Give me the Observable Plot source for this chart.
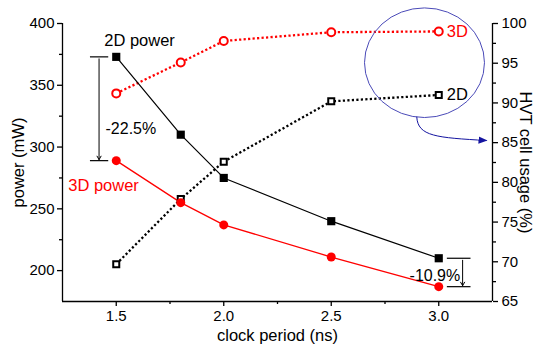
<!DOCTYPE html>
<html><head><meta charset="utf-8">
<script src="https://cdn.jsdelivr.net/npm/d3@7"></script>
<script src="https://cdn.jsdelivr.net/npm/@observablehq/plot@0.6"></script>
<style>body{margin:0;background:#fff}</style>
</head><body><div id="chart"></div>
<script>
// ---- data ----
const clock   = [1.5, 1.8, 2.0, 2.5, 3.0];
const power2D = [373, 310, 275, 240, 210];
const power3D = [289, 255, 237, 211, 187];
const hvt2D   = [69.7, 77.9, 82.6, 90.2, 91.0];
const hvt3D   = [91.2, 95.1, 97.8, 98.9, 99.0];
const xTicks = [1.5, 2.0, 2.5, 3.0];
const xMinor = [1.75, 2.25, 2.75];
const powerTicks = [200, 250, 300, 350, 400];
const powerMinor = [225, 275, 325, 375];
const hvtTicks = [65, 70, 75, 80, 85, 90, 95, 100];
const hvtMinor = [67.5, 72.5, 77.5, 82.5, 87.5, 92.5, 97.5];
const xDomain = [1.25, 3.25];
const pDomain = [175, 400];
const hDomain = [65, 100];

const toP = h => pDomain[0] + (h - hDomain[0]) * (pDomain[1] - pDomain[0]) / (hDomain[1] - hDomain[0]);
const toH = p => hDomain[0] + (p - pDomain[0]) * (hDomain[1] - hDomain[0]) / (pDomain[1] - pDomain[0]);

const rows = clock.map((c, i) => ({clock: c, p2: power2D[i], p3: power3D[i], h2: toP(hvt2D[i]), h3: toP(hvt3D[i])}));
const first = rows[0], last = rows[rows.length - 1];

const font = "'Liberation Sans', Arial, sans-serif";
const red = "#ff0000";

const plot = Plot.plot({
  width: 538, height: 349,
  marginLeft: 62, marginRight: 46, marginTop: 23, marginBottom: 48,
  style: {fontFamily: font, fontSize: "15px", background: "#fff", color: "#000"},
  x: {domain: xDomain},
  y: {domain: pDomain},
  marks: [
    Plot.axisX({ticks: xTicks, tickSize: 5, tickPadding: 4, tickFormat: d3.format(".1f"), label: null, strokeWidth: 1.3}),
    Plot.axisX({ticks: xMinor, tickSize: 3, tickFormat: () => "", label: null, strokeWidth: 1.3}),
    Plot.axisY({ticks: powerTicks, tickSize: 5, tickPadding: 3, label: null, strokeWidth: 1.3}),
    Plot.axisY({ticks: powerMinor, tickSize: 3, tickFormat: () => "", label: null, strokeWidth: 1.3}),
    Plot.axisY({anchor: "right", ticks: hvtTicks.map(toP), tickFormat: p => Math.round(toH(p)), tickSize: 5, tickPadding: 4, label: null, strokeWidth: 1.3}),
    Plot.axisY({anchor: "right", ticks: hvtMinor.map(toP), tickSize: 3, tickFormat: () => "", label: null, strokeWidth: 1.3}),
    Plot.ruleX(xDomain, {stroke: "#000", strokeWidth: 1.3}),
    Plot.ruleY([pDomain[0]], {stroke: "#000", strokeWidth: 1.3}),

    // HVT usage (dotted)
    Plot.line(rows, {x: "clock", y: "h3", stroke: red, strokeWidth: 2.3, strokeDasharray: "2.2,2.3", strokeLinecap: "butt"}),
    Plot.line(rows, {x: "clock", y: "h2", stroke: "#000", strokeWidth: 2.3, strokeDasharray: "2.2,2.3", strokeLinecap: "butt"}),
    // power (solid)
    Plot.line(rows, {x: "clock", y: "p2", stroke: "#000", strokeWidth: 1.2}),
    Plot.line(rows, {x: "clock", y: "p3", stroke: red, strokeWidth: 1.3}),

    Plot.dot(rows, {x: "clock", y: "h3", r: 4, fill: "#fff", stroke: red, strokeWidth: 2}),
    Plot.dot(rows, {x: "clock", y: "h2", symbol: "square", r: 3.4, fill: "#fff", stroke: "#000", strokeWidth: 2}),
    Plot.dot(rows, {x: "clock", y: "p2", symbol: "square", r: 4.6, fill: "#000"}),
    Plot.dot(rows, {x: "clock", y: "p3", r: 4.5, fill: red}),

    // series labels
    Plot.text(["2D power"], {x: first.clock, y: first.p2, dx: -12, dy: -16, textAnchor: "start", fontSize: 16.5, fill: "#000"}),
    Plot.text(["3D power"], {x: first.clock, y: first.p3, dx: -48, dy: 25, textAnchor: "start", fontSize: 16.5, fill: red}),
    Plot.text(["3D"], {x: last.clock, y: last.h3, dx: 8, textAnchor: "start", fontSize: 16.5, fill: red}),
    Plot.text(["2D"], {x: last.clock, y: last.h2, dx: 8, textAnchor: "start", fontSize: 16.5, fill: "#000"}),

    // -22.5% bracket
    Plot.ruleY([first.p2, first.p3], {x1: 1.38, x2: 1.465, stroke: "#000", strokeWidth: 1.2}),
    Plot.arrow([first], {x: 1.42, y1: "p2", y2: "p3", stroke: "#000", strokeWidth: 1, headLength: 6, insetStart: 2, insetEnd: 1}),
    Plot.text(["-22.5%"], {x: 1.45, y: (first.p2 + first.p3) / 2 - 16, textAnchor: "start", fontSize: 16, fill: "#000"}),
    // -10.9% bracket
    Plot.ruleY([last.p2, last.p3], {x1: 3.04, x2: 3.15, stroke: "#000", strokeWidth: 1.2}),
    Plot.arrow([last], {x: 3.111, y1: "p2", y2: "p3", stroke: "#000", strokeWidth: 1, headLength: 6, insetStart: 2, insetEnd: 1}),
    Plot.text(["-10.9%"], {x: 3.1, y: (last.p2 + last.p3) / 2 - 2.5, textAnchor: "end", fontSize: 16, fill: "#000"}),

    // axis labels
    Plot.text(["power (mW)"], {frameAnchor: "left", dx: -44, rotate: -90, textAnchor: "middle", lineAnchor: "middle", fontSize: 16.5, fill: "#000"}),
    Plot.text(["HVT cell usage (%)"], {frameAnchor: "right", dx: 33, rotate: 90, textAnchor: "middle", lineAnchor: "middle", fontSize: 16.5, fill: "#000"}),
    Plot.text(["clock period (ns)"], {frameAnchor: "bottom", dy: 34, textAnchor: "middle", lineAnchor: "middle", fontSize: 16.5, fill: "#000"})
  ]
});

// ellipse + curved arrow annotation (positioned through the plot's scales)
const note = {cx: 2.936, cy: 95.0, rx: 0.279, ry: 6.9, ax1: 2.9, ay1: 88.2, ax2: 3.225, ay2: 85.2};
const sx = plot.scale("x").apply, sy = plot.scale("y").apply;
const svg = d3.select(plot);
const defs = svg.append("defs");
defs.append("marker").attr("id", "ah").attr("viewBox", "0 0 10 10").attr("refX", 9).attr("refY", 5)
  .attr("markerWidth", 9).attr("markerHeight", 9).attr("markerUnits", "userSpaceOnUse").attr("orient", "auto")
  .append("path").attr("d", "M0,1L10,5L0,9Z").attr("fill", "#1414a0");
const ecx = sx(note.cx), ecy = sy(toP(note.cy));
svg.append("ellipse").attr("cx", ecx).attr("cy", ecy)
  .attr("rx", sx(note.cx + note.rx) - ecx).attr("ry", ecy - sy(toP(note.cy + note.ry)))
  .attr("fill", "none").attr("stroke", "#4a4ab8").attr("stroke-width", 1);
const x1 = sx(note.ax1), y1 = sy(toP(note.ay1)), x2 = sx(note.ax2), y2 = sy(toP(note.ay2));
svg.append("path").attr("d", `M${x1},${y1} C${x1 + 1},${y2 - 4} ${x1 + 20},${y2 - 3} ${x2},${y2}`)
  .attr("fill", "none").attr("stroke", "#1414a0").attr("stroke-width", 1).attr("marker-end", "url(#ah)");

document.getElementById("chart").appendChild(plot);
</script>
</body></html>
